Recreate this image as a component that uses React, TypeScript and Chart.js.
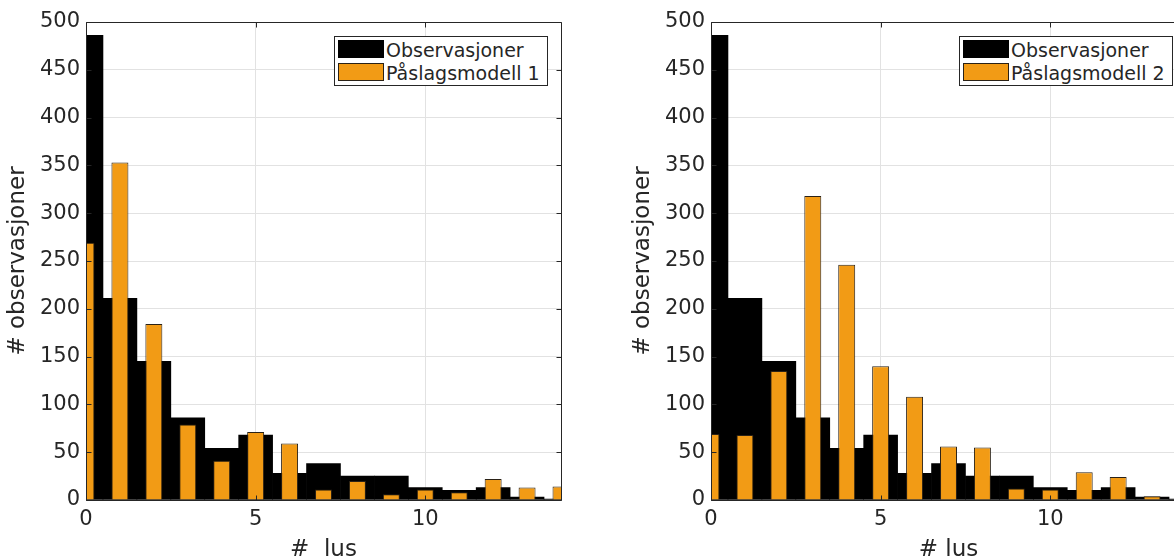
import React, { useEffect, useRef } from 'react';
import { Chart, registerables } from 'chart.js';

Chart.register(...registerables);

// ---- data ----
const lusValues = [0, 1, 2, 3, 4, 5, 6, 7, 8, 9, 10, 11, 12, 13, 14];
const observasjoner = [486, 211, 145, 86, 54, 68, 28, 38, 25, 25, 13, 10, 13, 3, 1];
const paslagsmodell1 = [269, 353, 184, 79, 41, 71, 59, 11, 20, 6, 11, 8, 22, 13, 14];
const paslagsmodell2 = [69, 68, 135, 318, 246, 140, 108, 56, 55, 12, 11, 29, 24, 4];
const yTickValues = [0, 50, 100, 150, 200, 250, 300, 350, 400, 450, 500];
const xTickValues = [0, 5, 10];

const FONT = "'DejaVu Sans', sans-serif";
const AXIS_COLOR = '#262626';
const ORANGE = '#F29B15';
const GRID = '#e2e2e2';

const CW = 587;
const CH = 580;

const framePlugin = {
  id: 'matlabFrame',
  afterDatasetsDraw(chart: any) {
    const { ctx, chartArea: a, scales } = chart;
    const xs = scales.x;
    const ys = scales.y;
    const L = Math.round(a.left) + 0.5;
    const R = Math.round(a.right) + 0.5;
    const T = Math.round(a.top) + 0.5;
    const B = Math.round(a.bottom) + 0.5;
    const tl = 5;
    ctx.save();
    ctx.strokeStyle = AXIS_COLOR;
    ctx.lineWidth = 1;
    ctx.beginPath();
    ctx.rect(L, T, R - L, B - T);
    ctx.stroke();
    ctx.beginPath();
    yTickValues.forEach((v) => {
      const py = Math.round(ys.getPixelForValue(v)) + 0.5;
      ctx.moveTo(L, py);
      ctx.lineTo(L + tl, py);
      ctx.moveTo(R, py);
      ctx.lineTo(R - tl, py);
    });
    xTickValues.forEach((v) => {
      const px = Math.round(xs.getPixelForValue(v)) + 0.5;
      ctx.moveTo(px, B);
      ctx.lineTo(px, B - tl);
      ctx.moveTo(px, T);
      ctx.lineTo(px, T + tl);
    });
    ctx.stroke();
    ctx.restore();
  },
};

type PanelProps = {
  left: number;
  model: number[];
  modelLabel: string;
  xTitle: string;
};

function Panel({ left, model, modelLabel, xTitle }: PanelProps) {
  const ref = useRef<HTMLCanvasElement>(null);

  useEffect(() => {
    const obsData = observasjoner.map((v, i) => ({ x: lusValues[i], y: v }));
    const modelData = model.map((v, i) => ({ x: lusValues[i], y: v }));
    const chart = new Chart(ref.current as HTMLCanvasElement, {
      type: 'bar',
      data: {
        datasets: [
          {
            label: 'Observasjoner',
            data: obsData,
            backgroundColor: '#000000',
            borderWidth: 0,
            grouped: false,
            barPercentage: 1,
            categoryPercentage: 1,
            order: 2,
            clip: 0,
          } as any,
          {
            label: modelLabel,
            data: modelData,
            backgroundColor: ORANGE,
            borderColor: '#2a2116',
            borderWidth: 1,
            grouped: false,
            barPercentage: 0.5,
            categoryPercentage: 1,
            order: 1,
            clip: 0,
          } as any,
        ],
      },
      options: {
        responsive: false,
        animation: false,
        devicePixelRatio: 1,
        layout: { padding: { top: 22, right: 26, left: 0, bottom: 0 } },
        plugins: {
          legend: { display: false },
          tooltip: { enabled: false },
          title: { display: false },
        },
        scales: {
          x: {
            type: 'linear',
            min: 0,
            max: 14,
            offset: false,
            afterFit: (s: any) => {
              s.height = CH - 500;
            },
            afterBuildTicks: (s: any) => {
              s.ticks = xTickValues.map((v) => ({ value: v }));
            },
            grid: { color: GRID, lineWidth: 1, drawTicks: false, offset: false },
            border: { display: false },
            ticks: {
              color: AXIS_COLOR,
              font: { family: FONT, size: 21 },
              padding: 7,
              maxRotation: 0,
              autoSkip: false,
            },
            title: {
              display: true,
              text: xTitle,
              color: AXIS_COLOR,
              font: { family: FONT, size: 23 },
              padding: { top: 0, bottom: 16 },
            },
          },
          y: {
            type: 'linear',
            min: 0,
            max: 500,
            afterFit: (s: any) => {
              s.width = 86;
            },
            afterBuildTicks: (s: any) => {
              s.ticks = yTickValues.map((v) => ({ value: v }));
            },
            grid: { color: GRID, lineWidth: 1, drawTicks: false },
            border: { display: false },
            ticks: {
              color: AXIS_COLOR,
              font: { family: FONT, size: 21 },
              padding: 6,
              autoSkip: false,
            },
            title: {
              display: true,
              text: '# observasjoner',
              color: AXIS_COLOR,
              font: { family: FONT, size: 23 },
              padding: { top: 4, bottom: 0 },
            },
          },
        },
      } as any,
      plugins: [framePlugin],
    });
    return () => chart.destroy();
  }, [model, modelLabel, xTitle]);

  const legendLeft = left + 334;
  const textStyle: React.CSSProperties = {
    position: 'absolute',
    left: legendLeft + 52,
    fontFamily: FONT,
    fontSize: 19,
    lineHeight: '23px',
    color: AXIS_COLOR,
    whiteSpace: 'nowrap',
  };

  return (
    <>
      <canvas
        ref={ref}
        width={CW}
        height={CH}
        style={{ position: 'absolute', left, top: 0, width: CW, height: CH, display: 'block' }}
      />
      <div
        style={{
          position: 'absolute',
          left: legendLeft,
          top: 36,
          width: 214,
          height: 50,
          boxSizing: 'border-box',
          border: `1px solid ${AXIS_COLOR}`,
          background: '#ffffff',
        }}
      />
      <div
        style={{
          position: 'absolute',
          left: legendLeft + 4,
          top: 40,
          width: 46,
          height: 18,
          background: '#000000',
        }}
      />
      <div
        style={{
          position: 'absolute',
          left: legendLeft + 4,
          top: 63,
          width: 46,
          height: 18,
          boxSizing: 'border-box',
          background: ORANGE,
          border: '1px solid #2a2116',
        }}
      />
      <div style={{ ...textStyle, top: 39 }}>Observasjoner</div>
      <div style={{ ...textStyle, top: 62 }}>{modelLabel}</div>
    </>
  );
}

export default function App() {
  return (
    <div
      style={{
        position: 'fixed',
        left: 0,
        top: 0,
        width: 1174,
        height: 559,
        overflow: 'hidden',
        background: '#ffffff',
      }}
    >
      <Panel left={0} model={paslagsmodell1} modelLabel="Påslagsmodell 1" xTitle="#  lus" />
      <Panel left={625} model={paslagsmodell2} modelLabel="Påslagsmodell 2" xTitle="# lus" />
    </div>
  );
}
